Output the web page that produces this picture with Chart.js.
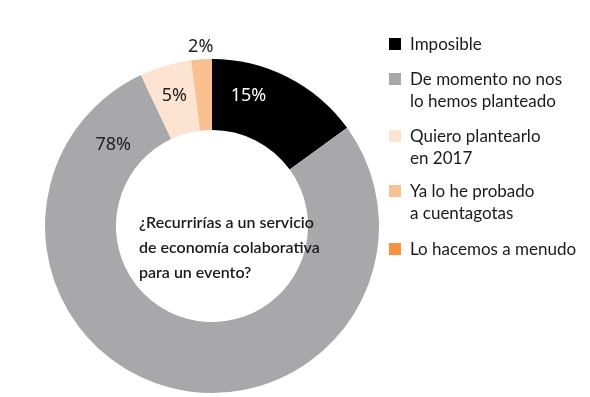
<!DOCTYPE html>
<html>
<head>
<meta charset="utf-8">
<script src="https://cdn.jsdelivr.net/npm/chart.js@4/dist/chart.umd.min.js"></script>
<style>
	body { margin:0; background:#fff; }
	#wrap { position:relative; width:590px; height:397px; }
	#legend { position:absolute; left:389px; top:33px; font-family:Lato, "Noto Sans", sans-serif; font-size:17px; color:#1a1a1a; }
	#legend .row { position:absolute; padding-left:21px; line-height:22px; white-space:nowrap; }
	#legend .box { position:absolute; left:0; top:5px; width:12px; height:12px; }
</style>
</head>
<body>
<div id="wrap">
	<canvas id="donut" width="590" height="397"></canvas>
	<div id="legend"></div>
</div>
<script>
	// ---- data ----
	const categories = ["Imposible", "De momento no nos|lo hemos planteado", "Quiero plantearlo|en 2017", "Ya lo he probado|a cuentagotas", "Lo hacemos a menudo"];
	const values = [15, 78, 5, 2, 0];
	const valueLabels = ["15%", "78%", "5%", "2%", ""];
	const colors = ["#000000", "#a8a8aa", "#fde3d1", "#fbc08f", "#f7913d"];
	const centerText = ["¿Recurrirías a un servicio", "de economía colaborativa", "para un evento?"];

	// ---- legend (html) ----
	const rowTops = [0, 35, 92, 147, 205];
	let legendHtml = [];
	categories.forEach((c, i) => {
		legendHtml.push('<div class="row" style="top:' + rowTops[i] + 'px;"><span class="box" style="background:' + colors[i] + '"></span>' + c.split("|").join("<br>") + '</div>');
	});
	document.getElementById("legend").innerHTML = legendHtml.join("");

	// 라벨 위치: 조각 안 비율, 반지름 비율(0=안쪽,1=바깥, >1 바깥쪽)
	const labelFrac = [0.29, 0.91, 0.5, 0.5, 0.5];
	const labelRad = [0.55, 0.45, 0.55, 1.18, 0.5];
	const labelColor = ["#ffffff", "#222222", "#222222", "#222222", "#222222"];

	const labelPlugin = {
		id: "labelPlugin",
		afterDatasetsDraw(chart) {
			const ctx = chart.ctx;
			const meta = chart.getDatasetMeta(0);
			ctx.save();
			ctx.textAlign = "center";
			ctx.textBaseline = "middle";
			ctx.font = '18px "Noto Sans", sans-serif';
			meta.data.forEach((arc, i) => {
				if (!valueLabels[i]) return;
				const p = arc.getProps(["x", "y", "startAngle", "endAngle", "innerRadius", "outerRadius"], true);
				const a = p.startAngle + (p.endAngle - p.startAngle) * labelFrac[i];
				const r = p.innerRadius + (p.outerRadius - p.innerRadius) * labelRad[i];
				ctx.fillStyle = labelColor[i];
				ctx.fillText(valueLabels[i], p.x + Math.cos(a) * r, p.y + Math.sin(a) * r);
			});
			// 중앙 질문 텍스트
			const c = meta.data[0];
			ctx.textAlign = "left";
			ctx.font = '600 16px Lato, "Noto Sans", sans-serif';
			ctx.fillStyle = "#1a1a1a";
			centerText.forEach((t, i) => {
				ctx.fillText(t, c.x - 73, c.y - 3 + i * 25);
			});
			ctx.restore();
		}
	};

	new Chart(document.getElementById("donut"), {
		type: "doughnut",
		data: {
			labels: categories,
			datasets: [{ data: values, backgroundColor: colors, borderWidth: 0 }]
		},
		options: {
			responsive: false,
			animation: false,
			cutout: "57.5%",
			layout: { padding: { top: 59, bottom: 4, left: 45, right: 211 } },
			plugins: { legend: { display: false }, tooltip: { enabled: false } }
		},
		plugins: [labelPlugin]
	});
</script>
</body>
</html>
